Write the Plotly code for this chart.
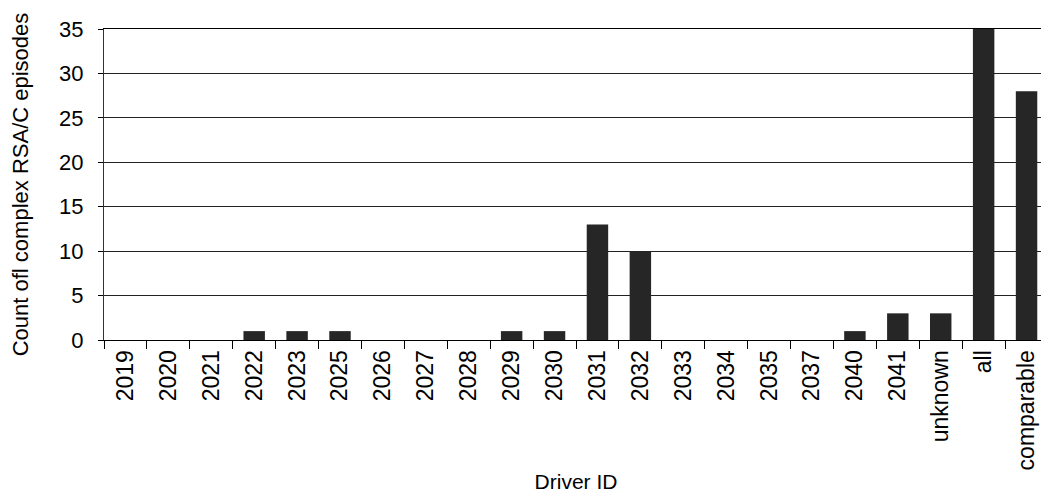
import plotly.graph_objects as go

drivers = ["2019", "2020", "2021", "2022", "2023", "2025", "2026", "2027", "2028",
           "2029", "2030", "2031", "2032", "2033", "2034", "2035", "2037", "2040",
           "2041", "unknown", "all", "comparable"]
counts = [0, 0, 0, 1, 1, 1, 0, 0, 0, 1, 1, 13, 10, 0, 0, 0, 0, 1, 3, 3, 35, 28]
y_ticks = [0, 5, 10, 15, 20, 25, 30, 35]

FONT = "Liberation Sans, Arial, sans-serif"

fig = go.Figure()
fig.add_trace(go.Bar(
    x=drivers, y=counts,
    marker=dict(color="#262626", line=dict(width=0)),
    cliponaxis=True,
))

# page body has an 8px margin, so the figure is sized to fill the rest of the window
fig.update_layout(
    width=1041, height=493,
    margin=dict(l=96, r=1, t=21, b=161),
    paper_bgcolor="white", plot_bgcolor="white",
    bargap=0.5,
    showlegend=False,
    font=dict(family=FONT, color="#000000"),
)

fig.update_xaxes(
    type="category",
    tickangle=-90,
    tickfont=dict(size=23, family=FONT, color="#000"),
    ticks="outside", ticklen=8, tickcolor="#000", tickwidth=1,
    tickson="boundaries",
    showline=True, linecolor="#000", linewidth=1, mirror=True,
    showgrid=False,
    title=dict(text="Driver ID", font=dict(size=21, family=FONT, color="#000"), standoff=4),
    automargin=False,
)

fig.update_yaxes(
    range=[0, 35],
    tickvals=y_ticks,
    tickfont=dict(size=22, family=FONT, color="#000"),
    ticks="outside", ticklen=5, tickcolor="#000", tickwidth=1,
    ticklabelstandoff=10,
    showline=True, linecolor="#333", linewidth=1, mirror=True,
    showgrid=True, gridcolor="#222", gridwidth=1,
    zeroline=False,
    title=dict(text="Count ofl complex RSA/C episodes",
               font=dict(size=22, family=FONT, color="#000"), standoff=26),
    automargin=False,
)

fig.write_html("out.html")
